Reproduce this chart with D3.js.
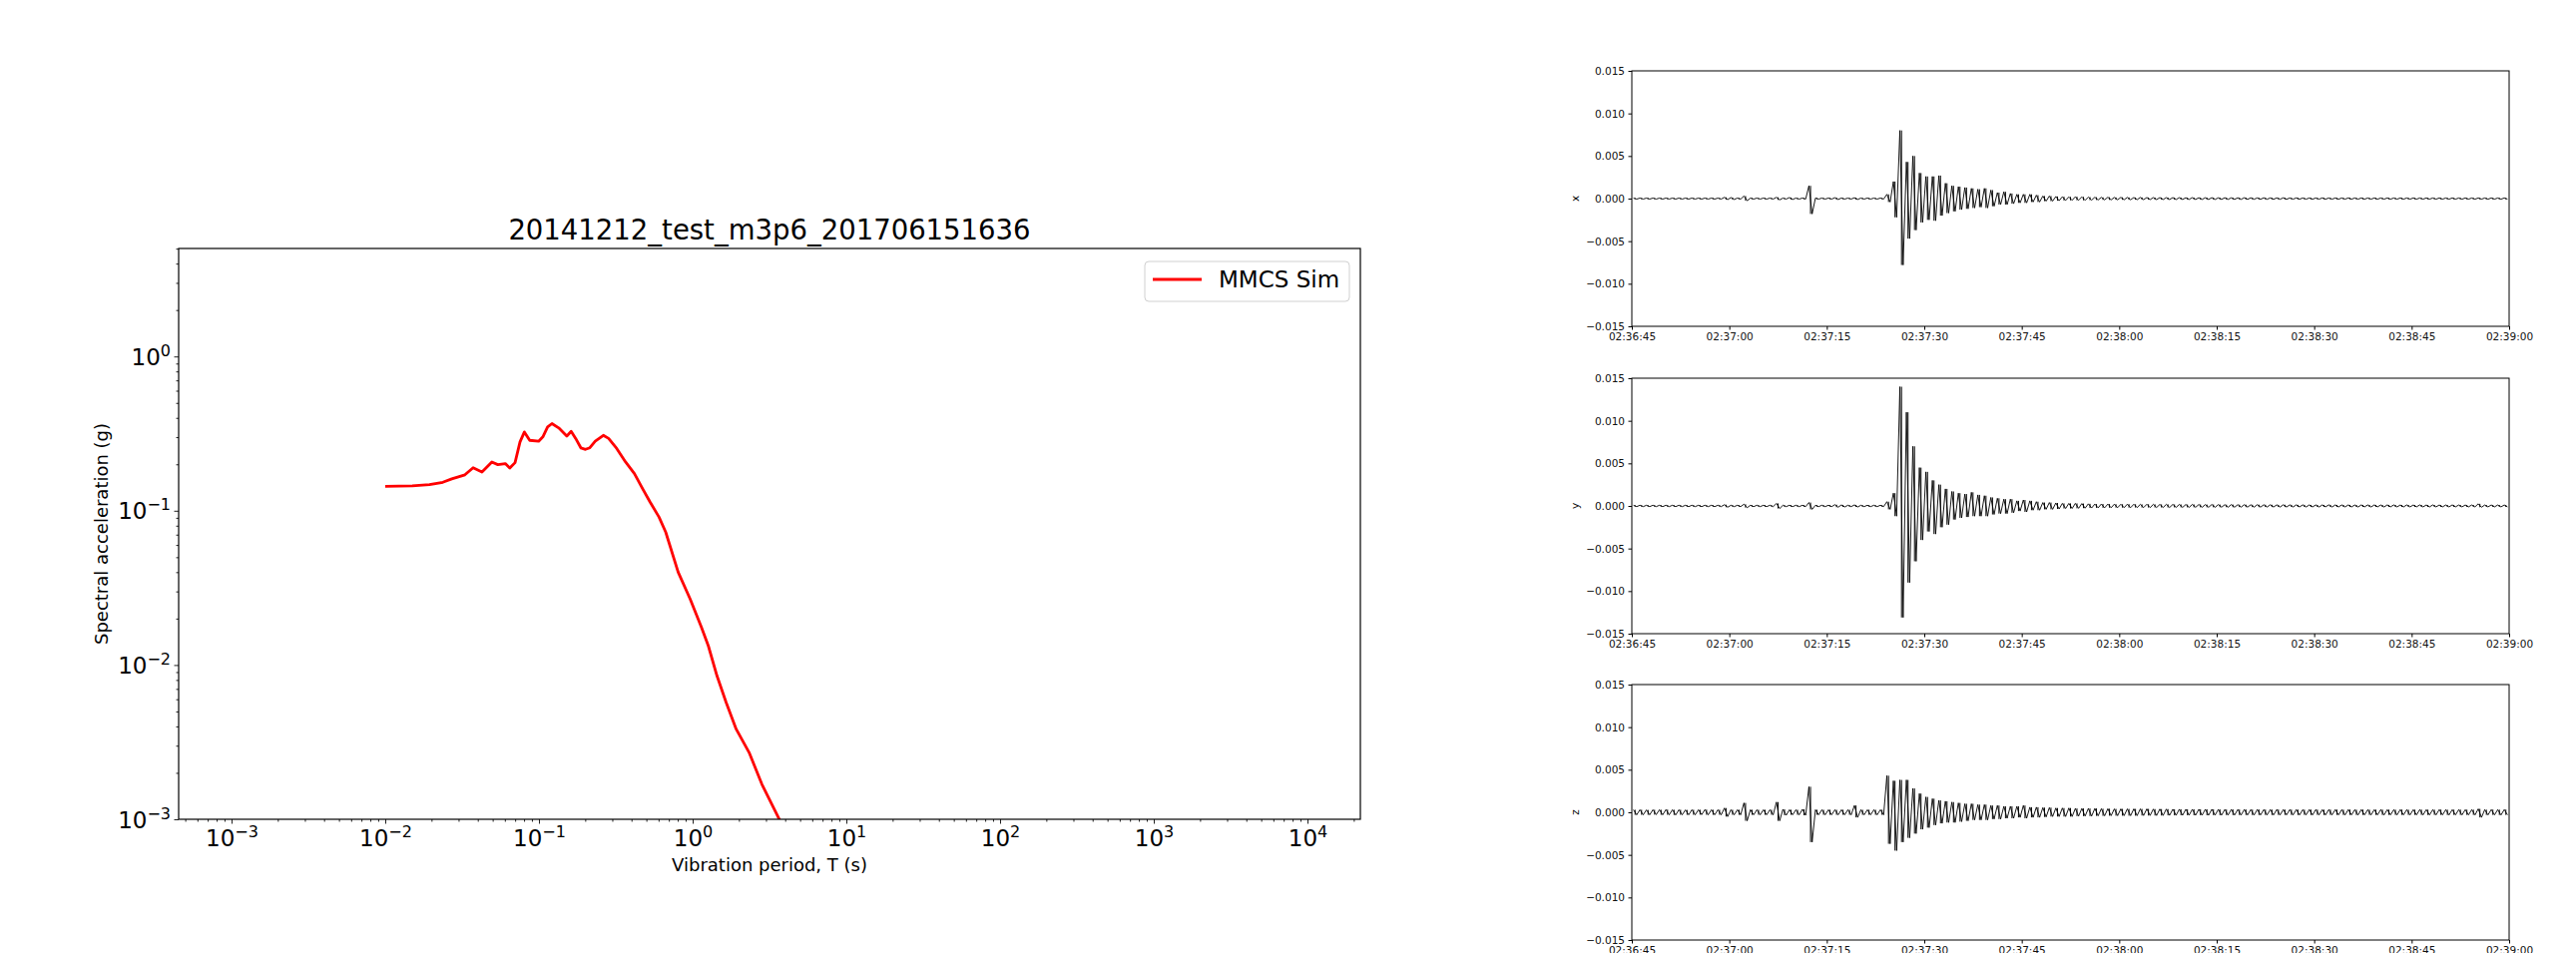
<!DOCTYPE html>
<html>
<head>
<meta charset="utf-8">
<script src="https://cdn.jsdelivr.net/npm/d3@7"></script>
<style>
  body { margin: 0; background: #fff; }
  svg { display: block; font-family: "DejaVu Sans", sans-serif; }
</style>
</head>
<body>
<script>
// response spectrum (left panel)
const spectrumTitle = "20141212_test_m3p6_201706151636";
const legendLabel = "MMCS Sim";
const periods = [0.0100, 0.0150, 0.0194, 0.0237, 0.0271, 0.0330, 0.0373, 0.0426, 0.0494, 0.0540,
  0.0604, 0.0646, 0.0699, 0.0753, 0.0804, 0.0871, 0.0995, 0.1060, 0.1138, 0.1215,
  0.1345, 0.1518, 0.1620, 0.1734, 0.1877, 0.2008, 0.2144, 0.2323, 0.2624, 0.2840,
  0.3206, 0.3660, 0.4180, 0.4720, 0.5280, 0.6040, 0.6680, 0.8050, 0.9630, 1.1400,
  1.2650, 1.4400, 1.6500, 1.9200, 2.3300, 2.8200, 3.6800];
const spectralAcc = [0.144, 0.145, 0.1476, 0.153, 0.161, 0.171, 0.190, 0.178, 0.207, 0.199,
  0.202, 0.189, 0.205, 0.279, 0.324, 0.286, 0.282, 0.301, 0.349, 0.367,
  0.344, 0.305, 0.327, 0.294, 0.255, 0.250, 0.256, 0.282, 0.308, 0.294,
  0.253, 0.207, 0.174, 0.139, 0.114, 0.091, 0.0727, 0.040, 0.0268, 0.0176,
  0.0133, 0.0085, 0.00573, 0.00384, 0.00271, 0.00169, 0.00099];
const periodTickExps = [-3, -2, -1, 0, 1, 2, 3, 4];
const accelTickExps = [-3, -2, -1, 0];

// seismograms (right panels): per-second max / min, starting 02:36:45, units of 1e-4
const componentNames = ["x", "y", "z"];
const timeTickStep = 15; // seconds
const ampTicks = [-0.015, -0.010, -0.005, 0, 0.005, 0.010, 0.015];
const ampUnit = 1e-4;

const xHi = [
  0.6,0.6,0.6,0.6,0.6,0.6,0.6,0.6,0.6,0.6,0.6,0.6,0.6,0.6,1.5,
  1.2,0.6,3,0.6,0.6,0.6,0.6,1.5,0.6,1.2,0.6,0.6,15,0.6,0.6,
  0.6,1,0.6,0.6,1,0.6,0.6,0.6,0.6,5,20,80,43,50,30,
  26,26,27,18,15,14,13,12,11,12,10,7,8,6,5,
  5,5,4,3,3,2.5,2.2,2,2.2,2,1.8,1.6,1.5,1.6,1.4,
  1.5,1.4,1.3,1.4,1.3,1.2,1.2,1.1,1.2,1.1,1,1.1,1,1,1.1,
  0.9,1,0.9,0.9,1,0.9,0.8,0.9,0.8,0.8,0.9,0.7,0.8,0.7,0.7,
  0.7,0.8,0.7,0.7,0.7,0.8,0.7,0.7,0.7,0.7,0.7,0.7,0.7,0.7,0.7,
  0.7,0.7,0.7,0.7,0.7,0.7,0.7,0.7,0.7,0.7,0.7,0.7,0.7,0.7,0.7];
const xLo = [
  -0.6,-0.6,-0.6,-0.6,-0.6,-0.6,-0.6,-0.6,-0.6,-0.6,-0.6,-0.6,-0.6,-0.6,-1.2,
  -1,-0.6,-2.5,-0.6,-0.6,-0.6,-0.6,-1.5,-0.6,-1,-0.6,-0.6,-18,-0.6,-0.6,
  -0.6,-1,-0.6,-0.6,-1,-0.6,-0.6,-0.6,-0.6,-4,-22,-78,-47,-37,-28,
  -25,-26,-20,-17,-15,-13,-12,-11,-10,-11,-9,-7,-7,-6,-5,
  -5,-4,-4,-3,-3,-2.5,-2.2,-2,-2,-2,-1.8,-1.6,-1.5,-1.5,-1.4,
  -1.4,-1.4,-1.3,-1.3,-1.2,-1.2,-1.1,-1.1,-1.1,-1,-1,-1,-1,-1,-1,
  -0.9,-0.9,-0.9,-0.9,-0.9,-0.8,-0.8,-0.8,-0.8,-0.8,-0.8,-0.7,-0.7,-0.7,-0.7,
  -0.7,-0.7,-0.7,-0.7,-0.7,-0.7,-0.7,-0.7,-0.7,-0.7,-0.7,-0.7,-0.7,-0.7,-0.7,
  -0.7,-0.7,-0.7,-0.7,-0.7,-0.7,-0.7,-0.7,-0.7,-0.7,-0.7,-0.7,-0.7,-0.7,-0.7];

const yHi = [
  0.8,0.8,0.8,0.8,0.8,0.8,0.8,0.8,0.8,0.8,0.8,0.8,0.8,0.8,1.5,
  0.8,0.8,2,0.8,0.8,0.8,0.8,3,0.8,0.8,0.8,0.8,4,0.8,0.8,
  0.8,1.5,1.2,0.8,1.2,0.8,0.8,0.8,0.8,5,15,140,110,70,45,
  40,30,25,20,17,15,14,16,13,12,10,9,8,8,6,
  7,6,5,4,4,3.5,3,3,3,2.8,2.5,2.2,2.3,2.2,2.1,
  2,2.1,2,1.9,2,1.9,1.8,1.9,1.8,1.8,1.7,1.8,1.7,1.6,1.7,
  1.6,1.5,1.6,1.5,1.5,1.4,1.5,1.4,1.4,1.3,1.4,1.3,1.3,1.3,1.2,
  1.2,1.2,1.3,1.2,1.2,1.2,1.1,1.2,1.2,1.2,1.1,1.2,1.2,1.1,1.2,
  1.1,1.2,1.1,1.2,1.1,1.1,1.2,1.1,1.1,1.1,2.5,1.1,1.1,1.1,1.1];
const yLo = [
  -0.8,-0.8,-0.8,-0.8,-0.8,-0.8,-0.8,-0.8,-0.8,-0.8,-0.8,-0.8,-0.8,-0.8,-1.5,
  -0.8,-0.8,-2,-0.8,-0.8,-0.8,-0.8,-3,-0.8,-0.8,-0.8,-0.8,-4,-0.8,-0.8,
  -0.8,-1.5,-1.2,-0.8,-1.2,-0.8,-0.8,-0.8,-0.8,-4,-12,-131,-90,-65,-40,
  -30,-33,-25,-22,-16,-14,-13,-12,-12,-12,-10,-9,-9,-8,-6,
  -7,-5,-5,-4,-4,-3.5,-3,-3,-2.8,-2.6,-2.4,-2.2,-2.2,-2.1,-2,
  -2,-2,-1.9,-1.9,-1.9,-1.8,-1.8,-1.8,-1.7,-1.7,-1.7,-1.6,-1.6,-1.6,-1.6,
  -1.5,-1.5,-1.5,-1.4,-1.4,-1.4,-1.4,-1.3,-1.3,-1.3,-1.3,-1.2,-1.2,-1.2,-1.2,
  -1.2,-1.1,-1.2,-1.2,-1.1,-1.2,-1.2,-1.1,-1.2,-1.1,-1.2,-1.1,-1.1,-1.2,-1.1,
  -1.1,-1.1,-1.2,-1.1,-1.1,-1.1,-1.1,-1.1,-1.1,-1.1,-1.5,-1.1,-1.1,-1.1,-1.1];

const zHi = [
  3,3,2.8,3,3,3.2,3,3,2.8,3,3,3.2,3,3,5,
  3,3,11,3,3,3,3,12,3.5,3,3,3.5,30,3,3,
  3,3,3,3,8,3,3,3,3,43,37,38,38,28,22,
  18,16,14,13,12,11,10,10,9,9,8,8,7,7,7,
  8,6,6,5.5,5.5,5,5,5,4.5,4.5,4.5,4.5,4.2,4.2,4,
  4,4,4,4,4,3.8,3.8,3.8,3.6,3.6,3.5,3.5,3.5,3.5,3.5,
  3.4,3.3,3.4,3.3,3.3,3.2,3.3,3.2,3.2,3.3,3.2,3.2,3.2,3.1,3.2,
  3.2,3.1,3.2,3.2,3.1,3.2,3.1,3.2,3.1,3.1,3.2,3.1,3.1,3.2,3.1,
  3.1,3.2,3.1,3.1,3.2,3.1,3.1,3.2,3.1,3.1,4,3.1,3.2,3.1,3.2];
const zLo = [
  -3,-3,-3,-2.8,-3,-3,-3.2,-3,-3,-3,-2.8,-3,-3,-3,-5,
  -3,-3,-10,-3,-3,-3,-3,-10,-3.5,-3,-3,-3.5,-35,-3,-3,
  -3,-3,-3,-3,-6,-3,-3,-3,-3,-37,-45,-35,-30,-25,-20,
  -18,-15,-13,-12,-12,-11,-10,-9,-9,-9,-8,-8,-7,-7,-6,
  -7,-6,-6,-5.5,-5,-5,-5,-5,-4.5,-4.5,-4.5,-4.2,-4.2,-4,-4,
  -4,-4,-4,-3.8,-3.8,-3.8,-3.8,-3.6,-3.6,-3.5,-3.5,-3.5,-3.5,-3.5,-3.4,
  -3.4,-3.3,-3.3,-3.3,-3.2,-3.3,-3.2,-3.2,-3.2,-3.2,-3.1,-3.2,-3.2,-3.1,-3.2,
  -3.1,-3.2,-3.1,-3.1,-3.2,-3.1,-3.2,-3.1,-3.1,-3.1,-3.2,-3.1,-3.1,-3.1,-3.1,
  -3.1,-3.1,-3.2,-3.1,-3.1,-3.2,-3.1,-3.1,-3.1,-3.1,-6,-3.1,-3.1,-3.2,-3.1];

const traceStart = new Date(Date.UTC(2014, 11, 12, 2, 36, 45));
const traceEnd = new Date(Date.UTC(2014, 11, 12, 2, 39, 0));

const width = 2581;
const height = 955;

const svg = d3.select("body").append("svg")
  .attr("width", width)
  .attr("height", height);

svg.append("rect")
  .attr("width", width)
  .attr("height", height)
  .attr("fill", "#fff");

// ---------- response spectrum ----------
const sp = { left: 179, right: 1363, top: 249, bottom: 821 };

const x = d3.scaleLog()
  .domain([10 ** -3.344, 10 ** 4.344])
  .range([sp.left, sp.right]);

const y = d3.scaleLog()
  .domain([1e-3, 10 ** 0.7])
  .range([sp.bottom, sp.top]);

// minor ticks at 2..9 x 10^k inside the domain
function minorTicks(scale) {
  const [a, b] = scale.domain();
  const out = [];
  for (let e = Math.floor(Math.log10(a)); e <= Math.ceil(Math.log10(b)); e++) {
    for (let m = 2; m <= 9; m++) {
      const v = m * 10 ** e;
      if (v >= a && v <= b) out.push(v);
    }
  }
  return out;
}

function powerLabel(sel) {
  sel.each(function (d) {
    const e = Math.round(Math.log10(d));
    const t = d3.select(this).text(null);
    t.append("tspan").text("10");
    t.append("tspan")
      .attr("font-size", 16)
      .attr("dy", -9)
      .text(e < 0 ? "\u2212" + (-e) : String(e));
  });
}

// x axis
svg.append("g")
  .attr("transform", `translate(0,${sp.bottom})`)
  .call(d3.axisBottom(x).tickValues(minorTicks(x)).tickSize(2.5).tickFormat(""))
  .call(g => g.select(".domain").remove())
  .call(g => g.selectAll("line").attr("stroke", "#222"));

svg.append("g")
  .attr("transform", `translate(0,${sp.bottom})`)
  .call(d3.axisBottom(x).tickValues(periodTickExps.map(e => 10 ** e)).tickSize(4.5).tickFormat(""))
  .call(g => g.select(".domain").remove())
  .call(g => g.selectAll("line").attr("stroke", "#222"))
  .call(g => g.selectAll(".tick text")
    .attr("y", 27)
    .attr("dy", null)
    .attr("font-size", 23)
    .attr("font-family", "DejaVu Sans")
    .attr("fill", "#000")
    .call(powerLabel));

// y axis
svg.append("g")
  .attr("transform", `translate(${sp.left},0)`)
  .call(d3.axisLeft(y).tickValues(minorTicks(y)).tickSize(2.5).tickFormat(""))
  .call(g => g.select(".domain").remove())
  .call(g => g.selectAll("line").attr("stroke", "#222"));

svg.append("g")
  .attr("transform", `translate(${sp.left},0)`)
  .call(d3.axisLeft(y).tickValues(accelTickExps.map(e => 10 ** e)).tickSize(4.5).tickPadding(3.5).tickFormat(""))
  .call(g => g.select(".domain").remove())
  .call(g => g.selectAll("line").attr("stroke", "#222"))
  .call(g => g.selectAll(".tick text")
    .attr("y", 8)
    .attr("dy", null)
    .attr("font-size", 23)
    .attr("font-family", "DejaVu Sans")
    .attr("fill", "#000")
    .call(powerLabel));

// the curve
svg.append("clipPath")
  .attr("id", "spClip")
  .append("rect")
  .attr("x", sp.left)
  .attr("y", sp.top)
  .attr("width", sp.right - sp.left)
  .attr("height", sp.bottom - sp.top);

const spectrum = periods.map((p, i) => ({ p: p, sa: spectralAcc[i] }));

svg.append("path")
  .datum(spectrum)
  .attr("clip-path", "url(#spClip)")
  .attr("fill", "none")
  .attr("stroke", "#ff0000")
  .attr("stroke-width", 2.8)
  .attr("stroke-linejoin", "round")
  .attr("d", d3.line().x(d => x(d.p)).y(d => y(d.sa)));

// frame
svg.append("rect")
  .attr("x", sp.left)
  .attr("y", sp.top)
  .attr("width", sp.right - sp.left)
  .attr("height", sp.bottom - sp.top)
  .attr("fill", "none")
  .attr("stroke", "#000")
  .attr("stroke-width", 1.2);

// title and labels
svg.append("text")
  .attr("x", (sp.left + sp.right) / 2)
  .attr("y", 240)
  .attr("text-anchor", "middle")
  .attr("font-size", 27.5)
  .text(spectrumTitle);

svg.append("text")
  .attr("x", (sp.left + sp.right) / 2)
  .attr("y", 873)
  .attr("text-anchor", "middle")
  .attr("font-size", 18)
  .text("Vibration period, T (s)");

svg.append("text")
  .attr("transform", `translate(102,${(sp.top + sp.bottom) / 2}) rotate(-90)`)
  .attr("dy", "0.35em")
  .attr("text-anchor", "middle")
  .attr("font-size", 18)
  .text("Spectral acceleration (g)");

// legend
const legend = svg.append("g").attr("transform", `translate(${sp.right - 216},${sp.top + 13})`);
legend.append("rect")
  .attr("width", 205)
  .attr("height", 40)
  .attr("rx", 4)
  .attr("fill", "#fff")
  .attr("fill-opacity", 0.8)
  .attr("stroke", "#d0d0d0");
legend.append("line")
  .attr("x1", 8).attr("x2", 57)
  .attr("y1", 18).attr("y2", 18)
  .attr("stroke", "#ff0000")
  .attr("stroke-width", 2.8);
legend.append("text")
  .attr("x", 74)
  .attr("y", 26)
  .attr("font-size", 23)
  .text(legendLabel);

// ---------- seismograms ----------
const panelTops = [71, 379, 686];
const panelH = 256;
const panelLeft = 1635;
const panelRight = 2514;

const time = d3.scaleUtc()
  .domain([traceStart, traceEnd])
  .range([panelLeft, panelRight]);

const traces = [
  { name: componentNames[0], hi: xHi, lo: xLo },
  { name: componentNames[1], hi: yHi, lo: yLo },
  { name: componentNames[2], hi: zHi, lo: zLo }
];

const secAt = s => new Date(traceStart.getTime() + s * 1000);

traces.forEach((tr, k) => {
  const top = panelTops[k];
  const amp = d3.scaleLinear()
    .domain([ampTicks[0], ampTicks[ampTicks.length - 1]])
    .range([top + panelH, top]);

  const bins = tr.hi.map((h, i) => ({ i: i, hi: h * ampUnit, lo: tr.lo[i] * ampUnit }));

  // min-max stroke for every second
  svg.append("g")
    .selectAll("line")
    .data(bins)
    .join("line")
    .attr("x1", d => time(secAt(d.i + 0.5)))
    .attr("x2", d => time(secAt(d.i + 0.5)))
    .attr("y1", d => amp(d.hi))
    .attr("y2", d => amp(d.lo))
    .attr("stroke", "#000")
    .attr("stroke-width", 1);

  // trace: the max and the min of each second in turn
  const pts = [];
  bins.forEach(d => {
    pts.push([secAt(d.i + 0.25), d.hi]);
    pts.push([secAt(d.i + 0.75), d.lo]);
  });

  svg.append("path")
    .datum(pts)
    .attr("fill", "none")
    .attr("stroke", "#000")
    .attr("stroke-width", 0.9)
    .attr("d", d3.line().x(d => time(d[0])).y(d => amp(d[1])));

  svg.append("g")
    .attr("transform", `translate(0,${top + panelH})`)
    .call(d3.axisBottom(time)
      .ticks(d3.utcSecond.every(timeTickStep))
      .tickFormat(d3.utcFormat("%H:%M:%S"))
      .tickSize(3.5)
      .tickPadding(3.5))
    .call(g => g.select(".domain").remove())
    .call(g => g.selectAll("text").attr("font-size", 10.5).attr("font-family", "DejaVu Sans").attr("fill", "#111"));

  svg.append("g")
    .attr("transform", `translate(${panelLeft},0)`)
    .call(d3.axisLeft(amp)
      .tickValues(ampTicks)
      .tickFormat(d3.format(".3f"))
      .tickSize(3.5)
      .tickPadding(3.5))
    .call(g => g.select(".domain").remove())
    .call(g => g.selectAll("text").attr("font-size", 10.5).attr("font-family", "DejaVu Sans").attr("fill", "#111"));

  svg.append("rect")
    .attr("x", panelLeft)
    .attr("y", top)
    .attr("width", panelRight - panelLeft)
    .attr("height", panelH)
    .attr("fill", "none")
    .attr("stroke", "#000")
    .attr("stroke-width", 1);

  svg.append("text")
    .attr("transform", `translate(1578,${top + panelH / 2}) rotate(-90)`)
    .attr("dy", "0.35em")
    .attr("text-anchor", "middle")
    .attr("font-size", 10.5)
    .text(tr.name);
});
</script>
</body>
</html>
